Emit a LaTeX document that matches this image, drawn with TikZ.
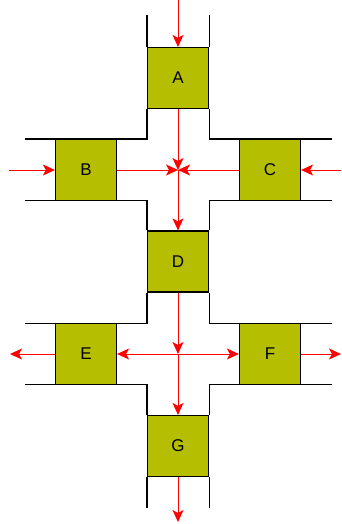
\documentclass[tikz,border=0pt]{standalone}
\usepackage{fontspec}
\setmainfont{Liberation Sans}
\usetikzlibrary{arrows.meta}
\definecolor{boxfill}{RGB}{181,190,0}
\definecolor{arrred}{RGB}{255,0,0}
\tikzset{
  cell/.style={draw=black, line width=1.2pt, fill=boxfill, minimum width=61pt, minimum height=61pt, inner sep=0pt, font=\fontsize{17}{20}\selectfont},
  wall/.style={draw=black, line width=1.2pt},
  flow/.style={draw=arrred, line width=1pt, -{Stealth[length=12pt,width=11pt,inset=3pt]}},
}
\begin{document}
\begin{tikzpicture}[x=1pt,y=-1pt]
\useasboundingbox (0,0) rectangle (341,524);
% boxes
\node[cell] (A) at (178,78) {A};
\node[cell] (B) at (86,170) {B};
\node[cell] (C) at (270,170) {C};
\node[cell] (D) at (178,261.5) {D};
\node[cell] (E) at (86,354) {E};
\node[cell] (F) at (270,354) {F};
\node[cell] (G) at (178,446) {G};
% walls
\draw[wall] (A.north west) -- ++(0,-31.5);
\draw[wall] (A.north east) -- ++(0,-31.5);
\draw[wall] (A.south west) |- (25,139);
\draw[wall] (A.south east) |- (331.7,139);
\draw[wall] (D.north west) |- (25,200.5);
\draw[wall] (D.north east) |- (331.7,200.5);
\draw[wall] (D.south west) |- (25,323.5);
\draw[wall] (D.south east) |- (331.7,323.5);
\draw[wall] (G.north west) |- (25,384.5);
\draw[wall] (G.north east) |- (331.7,384.5);
\draw[wall] (G.south west) -- ++(0,31);
\draw[wall] (G.south east) -- ++(0,31);
% coordinates
\coordinate (inT) at (178,0);
\coordinate (inL) at (9,170);
\coordinate (inR) at (341,170);
\coordinate (c1) at (178,170);
\coordinate (c2) at (178,354);
\coordinate (outL) at (10,354);
\coordinate (outR) at (341,354);
\coordinate (outB) at (178,522);
% arrows
\draw[flow] (inT) -- (A.north);
\draw[flow] (A.south) -- (c1);
\draw[flow] (B.east) -- (c1);
\draw[flow] (C.west) -- (c1);
\draw[flow] (inL) -- (B.west);
\draw[flow] (inR) -- (C.east);
\draw[flow] (c1) -- (D.north);
\draw[flow] (D.south) -- (c2);
\draw[flow] (c2) -- (G.north);
\draw[flow] (c2) -- (E.east);
\draw[flow] (c2) -- (F.west);
\draw[flow] (E.west) -- (outL);
\draw[flow] (F.east) -- (outR);
\draw[flow] (G.south) -- (outB);
\end{tikzpicture}
\end{document}
